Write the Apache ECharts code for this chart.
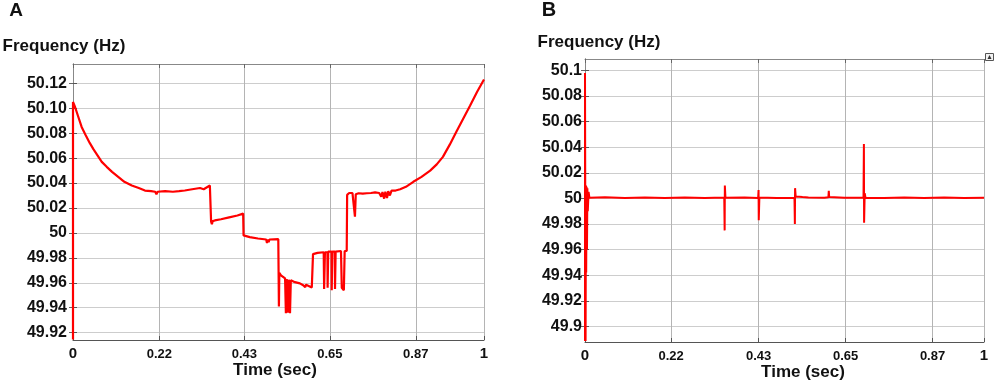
<!DOCTYPE html>
<html>
<head>
<meta charset="utf-8">
<script src="https://cdn.jsdelivr.net/npm/echarts@6/dist/echarts.min.js"></script>
<style>
  html, body { margin: 0; padding: 0; background: #fff; }
  #chart { width: 996px; height: 384px; }
</style>
</head>
<body>
<div id="chart"></div>
<script>
// panel A: frequency trace
const aTime = [0, 0, 0.005, 0.012, 0.021, 0.030, 0.041, 0.050, 0.062, 0.070, 0.082, 0.095, 0.110, 0.125, 0.143,
  0.160, 0.175, 0.190, 0.200, 0.203, 0.206, 0.224, 0.243, 0.258, 0.272, 0.290, 0.309, 0.318, 0.320, 0.323, 0.333,
  0.335, 0.336, 0.338, 0.340, 0.342, 0.345, 0.360, 0.380, 0.400, 0.414, 0.415, 0.430, 0.450, 0.470, 0.472, 0.474,
  0.476, 0.478, 0.4995, 0.501, 0.502, 0.506, 0.516, 0.518, 0.520, 0.523, 0.525, 0.528, 0.530, 0.540, 0.552, 0.560,
  0.565, 0.567, 0.570, 0.581, 0.584, 0.595, 0.610, 0.611, 0.613, 0.619, 0.6195, 0.621, 0.629, 0.6295, 0.631, 0.637,
  0.6375, 0.639, 0.652, 0.654, 0.657, 0.659, 0.661, 0.666, 0.667, 0.672, 0.676, 0.680, 0.684, 0.686, 0.688, 0.695,
  0.705, 0.715, 0.725, 0.735, 0.745, 0.750, 0.753, 0.757, 0.760, 0.764, 0.767, 0.771, 0.775, 0.785, 0.796, 0.810,
  0.828, 0.848, 0.869, 0.885, 0.900, 0.917, 0.934, 0.950, 0.966, 0.983, 1.0];
const aFreq = [49.9145, 50.105, 50.101, 50.094, 50.085, 50.079, 50.072, 50.067, 50.061, 50.057, 50.053, 50.049, 50.045, 50.041, 50.038,
  50.036, 50.034, 50.0335, 50.033, 50.031, 50.033, 50.0335, 50.033, 50.0335, 50.034, 50.035, 50.036, 50.035, 50.0335, 50.036, 50.038,
  50.0375, 50.009, 50.007, 50.0095, 50.008, 50.010, 50.011, 50.0125, 50.014, 50.0155, 49.998, 49.9966, 49.9955, 49.9947, 49.992, 49.9947,
  49.9925, 49.9947, 49.995, 49.941, 49.968, 49.966, 49.9635, 49.9355, 49.963, 49.936, 49.9625, 49.9355, 49.962, 49.9605, 49.9595, 49.958,
  49.9565, 49.9585, 49.957, 49.9563, 49.983, 49.984, 49.9845, 49.955, 49.9845, 49.9845, 49.956, 49.985, 49.985, 49.954, 49.985, 49.985,
  49.955, 49.985, 49.9855, 49.956, 49.956, 49.954, 49.9855, 49.9855, 50.0305, 50.032, 50.031, 50.032, 50.0315, 50.013, 50.031, 50.0318,
  50.0315, 50.0318, 50.032, 50.0325, 50.032, 50.029, 50.0328, 50.0275, 50.033, 50.028, 50.0335, 50.030, 50.034, 50.034, 50.035, 50.037,
  50.041, 50.045, 50.050, 50.055, 50.061, 50.071, 50.082, 50.092, 50.102, 50.113, 50.123];

// panel B: frequency trace
const bTime = [0, 0, 0.0015, 0.0025, 0.003, 0.004, 0.005, 0.006, 0.007, 0.009, 0.011, 0.05, 0.1, 0.15, 0.2, 0.25, 0.3,
  0.349, 0.350, 0.3505, 0.352, 0.4, 0.434, 0.435, 0.4355, 0.437, 0.48, 0.525, 0.526, 0.5265, 0.528, 0.545, 0.56, 0.6,
  0.610, 0.611, 0.612, 0.65, 0.698, 0.699, 0.6995, 0.701, 0.703, 0.75, 0.8, 0.85, 0.9, 0.95, 1.0];
const bFreq = [49.8885, 50.098, 49.8885, 50.010, 49.942, 50.009, 49.960, 50.008, 49.990, 50.005, 50.0005, 50.0008, 50.0003, 50.0007, 50.0004, 50.0006, 50.0003,
  50.0006, 49.975, 50.010, 50.0005, 50.0006, 50.0004, 50.0066, 49.983, 50.0006, 50.0003, 50.0005, 49.980, 50.008, 50.0015, 50.001, 50.0006, 50.0005,
  50.0008, 50.006, 50.001, 50.0005, 50.0005, 50.0425, 49.981, 50.004, 50.0005, 50.0003, 50.0006, 50.0004, 50.0006, 50.0003, 50.0005];

// tick positions and labels
const aXTicks = [0, 0.21, 0.417, 0.625, 0.834, 1];
const bXTicks = [0, 0.216, 0.435, 0.653, 0.871, 1];
const xLabels = ['0', '0.22', '0.43', '0.65', '0.87', '1'];
const aYTicks = [49.92, 49.94, 49.96, 49.98, 50, 50.02, 50.04, 50.06, 50.08, 50.10, 50.12];
const aYLabels = ['49.92', '49.94', '49.96', '49.98', '50', '50.02', '50.04', '50.06', '50.08', '50.10', '50.12'];
const bYTicks = [49.9, 49.92, 49.94, 49.96, 49.98, 50, 50.02, 50.04, 50.06, 50.08, 50.1];
const bYLabels = ['49.9', '49.92', '49.94', '49.96', '49.98', '50', '50.02', '50.04', '50.06', '50.08', '50.1'];

const FONT = '"Liberation Sans", Arial, sans-serif';
const zip = (xs, ys) => xs.map((x, i) => [x, ys[i]]);
const find = (arr, v) => arr.findIndex((t) => Math.abs(t - v) < 1e-6);

function xAxes(grid, ticks, min, max) {
  return [
    {
      type: "value", gridIndex: grid, min: min, max: max, position: "bottom",
      axisLine: { lineStyle: { color: "#555", width: 1 } },
      axisTick: { inside: true, length: 4, customValues: ticks, lineStyle: { color: "#555" } },
      splitLine: { show: true, lineStyle: { color: "#b4b4b4", width: 1 } },
      axisLabel: {
        customValues: ticks, margin: 6, fontFamily: FONT, fontWeight: "bold", color: "#111",
        formatter: (v) => {
          const s = xLabels[find(ticks, v)] || "";
          return s === "0" || s === "1" ? "{big|" + s + "}" : "{sm|" + s + "}";
        },
        rich: {
          big: { fontSize: 15, fontWeight: "bold", fontFamily: FONT, lineHeight: 16, color: "#111" },
          sm: { fontSize: 13, fontWeight: "bold", fontFamily: FONT, lineHeight: 16, color: "#111" },
        },
      },
    },
    {
      type: "value", gridIndex: grid, min: min, max: max, position: "top",
      axisLine: { lineStyle: { color: "#888", width: 1 } },
      axisTick: { inside: true, length: 4, customValues: ticks, lineStyle: { color: "#666" } },
      axisLabel: { show: false, customValues: ticks },
      splitLine: { show: false },
    },
  ];
}

function yAxes(grid, ticks, labels, min, max, margin) {
  return [
    {
      type: "value", gridIndex: grid, min: min, max: max, position: "left",
      axisLine: { show: true, lineStyle: { color: "#555" } },
      axisTick: { show: true, inside: true, length: 4, customValues: ticks, lineStyle: { color: "#555" } },
      splitLine: { show: true, lineStyle: { color: "#cdcdcd", width: 1 } },
      axisLabel: {
        customValues: ticks, margin: margin, fontSize: 16, fontWeight: "bold", fontFamily: FONT, color: "#111",
        formatter: (v) => labels[find(ticks, v)] || "",
      },
    },
    {
      type: "value", gridIndex: grid, min: min, max: max, position: "right",
      axisLine: { show: true, lineStyle: { color: "#888" } },
      axisTick: { show: true, inside: true, length: 4, customValues: ticks, lineStyle: { color: "#666" } },
      axisLabel: { show: false, customValues: ticks },
      splitLine: { show: false },
    },
  ];
}

const text = (x, y, s, size) => ({
  type: "text", x: x, y: y,
  style: { text: s, fontSize: size, fontWeight: "bold", fontFamily: FONT, fill: "#111", textAlign: "center", textVerticalAlign: "middle" },
});

const chart = echarts.init(document.getElementById("chart"));
chart.setOption({
  animation: false,
  grid: [
    { left: 73, top: 64, width: 411, height: 276 },
    { left: 585, top: 59, width: 399, height: 283 },
  ],
  xAxis: [...xAxes(0, aXTicks, 0, 1), ...xAxes(1, bXTicks, 0, 1)],
  yAxis: [
    ...yAxes(0, aYTicks, aYLabels, 49.9141, 50.1355, 6),
    ...yAxes(1, bYTicks, bYLabels, 49.8878, 50.1089, 3),
  ],
  series: [
    {
      type: "line", xAxisIndex: 0, yAxisIndex: 0, data: zip(aTime, aFreq),
      showSymbol: false, clip: false, lineStyle: { color: "#ff0000", width: 2.2 }, z: 5,
    },
    {
      type: "line", xAxisIndex: 2, yAxisIndex: 2, data: zip(bTime, bFreq),
      showSymbol: false, clip: false, lineStyle: { color: "#ff0000", width: 2 }, z: 5,
    },
  ],
  graphic: [
    text(16, 11, "A", 19),
    text(549, 10, "B", 20),
    text(64, 46, "Frequency (Hz)", 17),
    text(599, 42, "Frequency (Hz)", 17),
    text(275, 370, "Time (sec)", 17),
    text(803, 372, "Time (sec)", 17),
    { type: "rect", shape: { x: 985.5, y: 53.5, width: 8, height: 7 }, style: { fill: "#f2f2f2", stroke: "#555", lineWidth: 1 } },
    { type: "polygon", shape: { points: [[987.5, 59], [989.5, 55], [991.5, 59]] }, style: { fill: "#333" } },
  ],
});
</script>
</body>
</html>
